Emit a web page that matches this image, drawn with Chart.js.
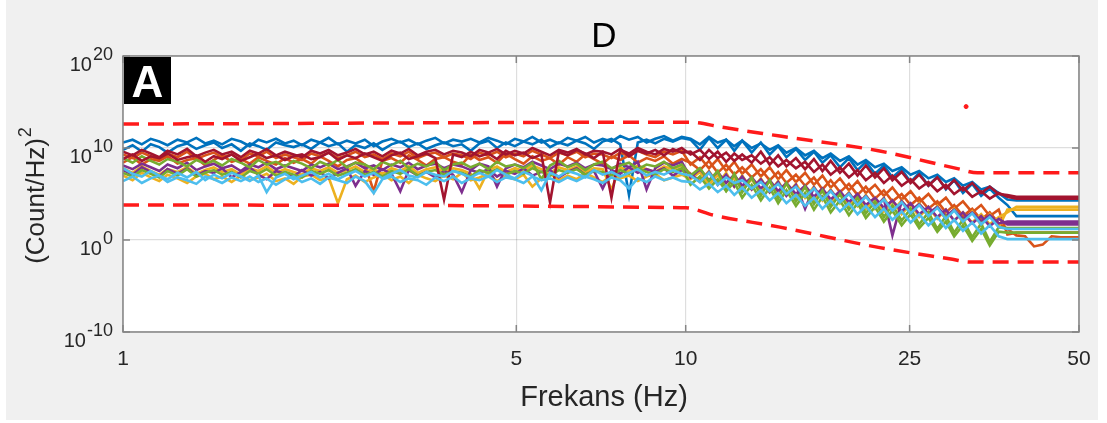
<!DOCTYPE html>
<html>
<head>
<meta charset="utf-8">
<script src="https://cdn.jsdelivr.net/npm/chart.js@4.4.1/dist/chart.umd.min.js"></script>
<style>
  html, body { margin: 0; padding: 0; background: #ffffff; }
  #wrap { width: 1107px; height: 423px; }
</style>
</head>
<body>
<div id="wrap"><canvas id="psd" width="1107" height="423"></canvas></div>
<script>
// frekans ekseni (Hz), spektrum degerleri log10 olarak saklaniyor
const freqHz = [
  1.00, 1.04, 1.08, 1.12, 1.16, 1.20, 1.25, 1.30, 1.35, 1.40,
  1.45, 1.50, 1.56, 1.62, 1.68, 1.74, 1.80, 1.87, 1.94, 2.01,
  2.08, 2.16, 2.24, 2.32, 2.41, 2.50, 2.59, 2.69, 2.79, 2.89,
  3.00, 3.11, 3.22, 3.34, 3.46, 3.59, 3.72, 3.86, 4.00, 4.15,
  4.30, 4.46, 4.62, 4.79, 4.97, 5.15, 5.34, 5.54, 5.74, 5.95,
  6.17, 6.40, 6.63, 6.87, 7.12, 7.38, 7.65, 7.93, 8.22, 8.52,
  8.83, 9.15, 9.49, 9.84,
  10.2, 10.6, 11.0, 11.4, 11.8, 12.2,
  12.6, 13.1, 13.6, 14.1, 14.6, 15.1, 15.7, 16.3, 16.9, 17.5,
  18.1, 18.8, 19.5, 20.2, 20.9, 21.7, 22.5, 23.3, 24.2, 25.1,
  26.0, 27.0, 28.0, 29.0, 30.0, 31.1, 32.3, 33.5, 34.7, 36.0,
  37.3, 38.7, 40.1, 41.6, 43.1, 44.7, 46.4, 48.1, 50.0
];

const blueLog = [
  9.8, 10.3, 9.6, 10.4, 10.1, 9.5, 10.2, 10.5, 9.9, 10.3,
  10.6, 10.0, 10.4, 9.7, 10.5, 10.2, 9.8, 10.6, 10.3, 10.1,
  10.4, 9.9, 10.6, 10.2, 10.5, 9.6, 10.3, 10.0, 10.5, 9.8,
  10.4, 10.7, 10.1, 10.5, 9.9, 10.3, 10.6, 10.2, 10.4, 9.7,
  10.5, 10.8, 10.0, 10.6, 10.2, 10.7, 10.4, 10.9, 10.1, 10.6,
  10.3, 10.8, 10.5, 9.9, 10.7, 11.0, 10.4, 4.9, 10.6, 10.9,
  10.5, 11.0, 10.7, 11.1,
  10.9, 9.8, 11.1, 10.0, 10.9, 9.7,
  10.8, 9.5, 10.6, 9.3, 10.2, 9.0, 9.9, 8.7, 9.6, 8.4,
  9.2, 7.9, 8.9, 7.6, 8.5, 7.2, 8.1, 6.8, 7.7, 6.3,
  7.3, 5.9, 6.9, 5.5, 6.5, 5.1, 6.1, 4.8, 5.6, 4.6,
  3.8, 2.6, 2.6, 2.6, 2.6, 2.6, 2.6, 2.6, 2.6
];
const blue2Log = [
  10.6, 10.9, 10.4, 11.0, 10.7, 10.3, 10.9, 10.6, 11.1, 10.5,
  10.8, 10.4, 11.0, 10.7, 10.2, 10.9, 10.6, 11.0, 10.5, 10.8,
  10.3, 10.9, 10.6, 11.1, 10.4, 10.8, 10.5, 10.9, 10.2, 10.7,
  11.0, 10.6, 10.9, 10.4, 10.8, 11.1, 10.5, 10.9, 10.7, 11.0,
  10.6, 11.1, 10.8, 10.4, 11.0, 10.7, 11.2, 10.6, 10.9, 10.5,
  11.1, 10.8, 11.2, 10.6, 11.0, 10.7, 11.3, 10.9, 11.2, 10.6,
  11.0, 11.3, 10.8, 11.2,
  11.0, 10.4, 11.2, 10.6, 10.9, 10.2,
  10.8, 10.0, 10.5, 9.8, 10.3, 9.5, 10.0, 9.2, 9.7, 8.9,
  9.4, 8.6, 9.1, 8.2, 8.7, 7.9, 8.3, 7.5, 7.9, 7.1,
  7.5, 6.7, 7.1, 6.3, 6.7, 5.9, 6.3, 5.5, 5.8, 5.1,
  4.4, 4.3, 4.3, 4.3, 4.3, 4.3, 4.3, 4.3, 4.3
];

const orangeLog = [
  8.4, 9.0, 8.2, 8.8, 8.6, 9.1, 8.3, 8.7, 8.9, 8.1,
  8.7, 9.2, 8.5, 8.8, 8.3, 9.0, 8.6, 8.2, 8.9, 8.4,
  8.8, 8.3, 9.1, 8.6, 8.0, 8.7, 8.9, 8.2, 5.3, 8.6,
  8.9, 8.4, 9.2, 8.7, 8.1, 8.8, 9.0, 8.5, 8.2, 9.3,
  8.7, 9.0, 8.4, 9.4, 8.8, 8.3, 9.1, 8.6, 8.9, 8.2,
  9.0, 8.5, 9.3, 8.8, 8.3, 9.1, 8.7, 9.2, 8.4, 8.9,
  8.6, 9.1, 8.3, 8.8,
  8.4, 7.6, 8.6, 7.3, 8.2, 7.1,
  7.9, 6.8, 7.7, 6.5, 7.4, 6.2, 7.1, 5.9, 6.8, 5.5,
  6.5, 5.2, 6.1, 4.9, 5.8, 4.5, 5.4, 4.2, 5.0, 3.8,
  4.6, 3.4, 4.2, 3.0, 3.8, 2.6, 3.4, 2.2, 3.0, 1.8,
  1.2, 0.5, 0.4, -0.7, -0.5, 0.4, 0.3, 0.3, 0.3
];
const orange2Log = [
  9.3, 8.9, 9.5, 9.1, 8.7, 9.4, 9.0, 9.6, 8.8, 9.2,
  9.5, 9.0, 9.3, 8.7, 9.4, 9.1, 9.6, 8.9, 9.3, 9.0,
  8.7, 9.4, 9.1, 9.5, 8.9, 9.2, 9.6, 9.0, 9.3, 8.8,
  9.4, 9.1, 9.6, 8.9, 9.3, 9.5, 9.0, 9.4, 9.2, 8.8,
  9.5, 9.2, 9.6, 9.0, 9.4, 9.1, 9.7, 9.3, 8.9, 9.5,
  9.2, 9.6, 9.0, 9.4, 9.3, 8.9, 9.5, 9.1, 9.7, 9.3,
  9.0, 9.6, 9.3, 9.7,
  8.2, 9.0, 7.8, 8.8, 7.5, 8.5,
  7.2, 8.2, 6.9, 7.9, 6.6, 7.6, 6.3, 7.3, 6.0, 7.0,
  5.7, 6.7, 5.4, 6.4, 5.1, 6.0, 4.8, 5.7, 4.4, 5.3,
  4.1, 5.0, 3.8, 4.6, 3.4, 4.2, 3.0, 3.8, 2.6, 3.3,
  0.6, 0.8, 0.8, 0.8, 0.8, 0.8, 0.8, 0.8, 0.8
];

const yellowLog = [
  7.0, 6.5, 7.3, 6.8, 6.4, 7.1, 6.7, 6.2, 6.9, 7.2,
  6.6, 6.9, 6.3, 7.0, 6.5, 6.8, 7.2, 6.4, 6.7, 6.1,
  6.9, 7.1, 6.5, 6.8, 4.0, 6.6, 7.0, 6.3, 6.8, 7.2,
  6.5, 6.9, 6.2, 7.1, 6.7, 6.4, 7.0, 6.6, 7.3, 6.5,
  6.8, 7.2, 6.4, 6.9, 6.6, 7.1, 5.8, 6.7, 7.2, 6.5,
  7.0, 6.6, 7.3, 6.8, 6.3, 7.1, 6.7, 7.0, 6.4, 6.9,
  7.2, 6.5, 6.8, 7.1,
  6.6, 7.4, 6.0, 7.1, 5.7, 6.8,
  5.5, 6.6, 5.2, 6.4, 4.9, 6.1, 4.6, 5.8, 4.3, 5.5,
  4.0, 5.2, 3.7, 4.9, 3.4, 4.6, 3.1, 4.3, 2.8, 3.9,
  2.5, 3.6, 2.3, 3.3, 2.1, 3.0, 1.9, 2.8, 1.7, 2.5,
  3.0, 3.6, 3.6, 3.6, 3.6, 3.6, 3.6, 3.6, 3.6
];
const yellow2Log = [
  7.8, 7.3, 8.0, 7.5, 7.1, 7.7, 7.4, 7.9, 7.2, 7.6,
  7.9, 7.4, 7.7, 7.1, 7.8, 7.5, 8.0, 7.3, 7.7, 7.4,
  7.1, 7.8, 7.5, 7.9, 7.3, 7.6, 8.0, 7.4, 7.7, 7.2,
  7.8, 7.5, 8.0, 7.3, 7.7, 7.9, 7.4, 7.8, 7.6, 7.2,
  5.6, 7.6, 8.0, 7.4, 7.8, 7.5, 8.1, 7.7, 7.3, 7.9,
  7.6, 8.0, 7.4, 7.8, 7.7, 5.5, 7.9, 7.5, 8.1, 7.7,
  7.4, 8.0, 7.7, 8.1,
  7.2, 6.4, 7.5, 6.1, 7.3, 5.8,
  7.0, 5.5, 6.7, 5.2, 6.4, 4.9, 6.1, 4.6, 5.8, 4.3,
  5.5, 4.0, 5.2, 3.7, 4.9, 3.4, 4.6, 3.1, 4.3, 2.8,
  4.0, 2.5, 3.7, 2.2, 3.4, 1.9, 3.1, 1.6, 2.8, 1.4,
  3.3, 3.3, 3.3, 3.3, 3.3, 3.3, 3.3, 3.3, 3.3
];

const purpleLog = [
  7.6, 7.1, 7.9, 7.4, 6.9, 7.7, 7.2, 7.8, 7.0, 7.5,
  7.3, 7.8, 6.8, 7.4, 7.9, 7.1, 6.6, 7.5, 7.2, 6.9,
  7.6, 7.0, 7.4, 6.7, 7.3, 7.8, 5.9, 7.5, 7.1, 7.7,
  7.2, 5.3, 7.6, 7.0, 7.4, 6.8, 7.5, 7.1, 5.2, 7.6,
  7.3, 7.7, 6.9, 7.5, 7.2, 7.8, 7.0, 7.4, 7.6, 6.8,
  7.4, 7.8, 7.1, 7.5, 5.6, 7.6, 7.2, 7.9, 7.3, 7.7,
  7.4, 7.8, 7.0, 7.6,
  7.2, 6.3, 7.4, 6.0, 7.1, 5.8,
  6.9, 5.5, 6.6, 5.2, 6.3, 4.8, 6.0, 3.4, 5.7, 4.5,
  5.4, 4.2, 5.1, 3.9, 4.8, 3.6, 4.5, 0.5, 4.2, 3.2,
  3.9, 2.9, 3.6, 2.6, 3.3, 2.3, 3.0, 2.0, 2.7, 1.8,
  2.0, 2.0, 2.0, 2.0, 2.0, 2.0, 2.0, 2.0, 2.0
];
const purple2Log = [
  8.1, 7.7, 8.3, 7.9, 7.5, 8.2, 7.8, 8.4, 7.6, 8.0,
  8.3, 7.8, 8.1, 7.5, 8.2, 7.9, 8.4, 7.7, 8.1, 7.8,
  7.5, 8.2, 7.9, 8.3, 7.7, 8.0, 8.4, 7.8, 8.1, 7.6,
  8.2, 7.9, 8.4, 7.7, 8.1, 8.3, 7.8, 8.2, 8.0, 7.6,
  8.3, 8.0, 5.8, 7.8, 8.2, 7.9, 8.5, 8.1, 7.7, 8.3,
  8.0, 8.4, 7.8, 8.2, 8.1, 7.7, 8.3, 7.9, 8.5, 5.5,
  7.8, 8.4, 8.1, 8.5,
  6.8, 7.7, 6.5, 7.4, 6.2, 7.1,
  5.9, 6.8, 5.6, 6.5, 5.3, 6.2, 5.0, 5.9, 4.7, 5.6,
  4.4, 5.3, 4.1, 5.0, 3.8, 4.6, 3.5, 4.3, 3.1, 4.0,
  2.8, 3.6, 2.5, 3.3, 2.1, 3.0, 1.8, 2.6, 1.5, 2.3,
  1.7, 1.7, 1.7, 1.7, 1.7, 1.7, 1.7, 1.7, 1.7
];

const greenLog = [
  8.9, 8.4, 9.1, 8.6, 8.2, 8.8, 8.5, 8.0, 8.7, 8.3,
  8.6, 8.1, 8.8, 8.4, 7.9, 8.7, 8.2, 8.5, 8.0, 8.6,
  8.3, 7.8, 8.5, 8.1, 8.7, 7.9, 8.4, 8.2, 7.7, 8.5,
  8.1, 8.6, 7.8, 8.3, 8.0, 8.5, 7.6, 8.2, 8.4, 7.9,
  8.3, 7.7, 8.5, 8.0, 8.2, 7.8, 8.4, 6.6, 8.1, 8.6,
  7.9, 8.3, 7.6, 8.2, 8.5, 7.8, 8.1, 8.4, 7.7, 8.2,
  8.0, 8.5, 7.8, 8.2,
  7.0, 7.8, 6.4, 7.5, 5.4, 7.2,
  5.2, 6.8, 4.8, 6.5, 4.5, 6.2, 4.2, 5.8, 3.9, 5.4,
  3.6, 5.0, 3.3, 4.6, 2.9, 4.2, 2.5, 3.8, 2.1, 3.4,
  1.7, 3.0, 1.2, 2.6, 0.8, 2.2, 0.3, 1.8, -0.2, 1.4,
  1.3, 1.3, 1.3, 1.3, 1.3, 1.3, 1.3, 1.3, 1.3
];
const green2Log = [
  7.3, 6.9, 7.6, 7.2, 6.8, 7.5, 7.0, 7.7, 6.9, 7.3,
  7.6, 7.1, 7.4, 6.8, 7.5, 7.2, 7.7, 7.0, 7.4, 7.1,
  6.8, 7.5, 7.2, 7.6, 7.0, 7.3, 7.7, 7.1, 7.4, 6.9,
  7.5, 7.2, 7.7, 7.0, 7.4, 7.6, 7.1, 7.5, 7.3, 6.9,
  7.6, 7.3, 7.7, 7.1, 7.5, 7.2, 7.8, 7.4, 7.0, 7.6,
  7.3, 7.7, 7.1, 7.5, 7.4, 7.0, 7.6, 7.2, 7.8, 7.4,
  7.1, 7.7, 7.4, 7.8,
  6.0, 6.9, 5.6, 6.6, 5.3, 6.3,
  4.6, 6.0, 4.3, 5.7, 4.0, 5.4, 3.7, 5.1, 3.3, 4.7,
  3.0, 4.3, 2.7, 4.0, 2.4, 3.6, 2.0, 3.2, 1.6, 2.8,
  1.3, 2.4, 0.9, 2.0, 0.4, 1.6, -0.1, 1.2, -0.6, 0.9,
  0.8, 0.8, 0.8, 0.8, 0.8, 0.8, 0.8, 0.8, 0.8
];

const lightBlueLog = [
  7.8, 7.2, 6.9, 7.5, 7.0, 6.6, 7.3, 6.8, 7.4, 6.5,
  7.1, 6.7, 7.3, 6.9, 6.4, 7.0, 5.2, 6.8, 7.2, 6.6,
  7.0, 7.4, 6.8, 7.2, 6.6, 7.1, 7.5, 6.9, 7.3, 6.7,
  7.2, 7.6, 7.0, 6.8, 7.4, 7.1, 6.9, 7.5, 7.2, 6.8,
  7.3, 6.9, 7.6, 7.1, 6.7, 7.4, 7.0, 5.4, 7.3, 6.9,
  7.5, 7.2, 6.8, 7.6, 7.1, 7.4, 6.9, 7.3, 7.7, 7.0,
  7.4, 7.1, 7.6, 7.2,
  7.0, 6.3, 7.3, 6.0, 6.8, 6.2,
  6.5, 5.6, 6.3, 5.3, 6.1, 5.0, 5.8, 4.7, 5.6, 4.4,
  5.3, 4.1, 5.0, 3.8, 4.7, 3.5, 4.4, 3.2, 4.1, 2.9,
  3.8, 2.6, 3.5, 2.3, 3.2, 2.0, 2.9, 1.7, 2.5, 1.4,
  1.2, 1.2, 1.2, 1.2, 1.2, 1.2, 1.2, 1.2, 1.2
];
const lightBlue2Log = [
  6.4, 6.9, 6.2, 6.7, 7.0, 6.3, 6.8, 6.5, 6.1, 6.9,
  6.6, 6.2, 6.8, 6.4, 6.9, 6.3, 6.7, 6.0, 6.6, 6.9,
  6.3, 6.7, 6.1, 6.8, 6.5, 6.2, 6.9, 6.4, 5.1, 6.6,
  6.9, 6.3, 6.7, 6.5, 6.0, 6.8, 6.4, 6.9, 6.2, 6.7,
  6.5, 6.9, 6.3, 6.8, 6.6, 6.2, 6.9, 6.5, 6.7, 6.3,
  6.8, 6.4, 6.9, 6.6, 6.2, 6.8, 6.5, 5.6, 6.7, 6.3,
  6.9, 6.5, 6.8, 6.4,
  6.3, 5.5, 6.1, 5.2, 5.9, 4.9,
  5.7, 4.6, 5.4, 4.3, 5.1, 4.0, 4.9, 3.7, 4.6, 3.4,
  4.3, 3.1, 4.0, 2.8, 3.7, 2.5, 3.4, 2.2, 3.1, 1.9,
  2.8, 1.6, 2.5, 1.3, 2.2, 1.0, 1.9, 0.7, 1.6, 0.4,
  0.1, 0.1, 0.1, 0.1, 0.1, 0.1, 0.1, 0.1, 0.1
];

const darkRedLog = [
  8.8, 9.3, 8.6, 9.1, 8.9, 9.4, 8.7, 9.0, 9.2, 8.5,
  9.1, 8.8, 9.3, 8.6, 9.0, 9.4, 8.9, 9.2, 8.7, 9.1,
  9.3, 8.8, 9.0, 9.5, 8.7, 9.2, 8.9, 9.4, 9.0, 8.6,
  9.2, 9.5, 8.8, 9.1, 9.4, 8.9, 4.4, 9.3, 9.0, 9.6,
  9.1, 9.4, 8.8, 9.7, 9.2, 9.5, 8.9, 9.3, 4.1, 9.6,
  9.2, 9.8, 9.4, 8.9, 9.6, 9.3, 9.9, 9.1, 9.7, 9.4,
  9.8, 9.2, 9.9, 9.5,
  9.6, 8.7, 9.8, 8.9, 9.5, 8.6,
  9.3, 8.4, 9.6, 8.2, 9.2, 8.0, 8.9, 7.7, 8.8, 7.5,
  8.6, 7.3, 8.3, 7.0, 8.1, 6.8, 7.8, 6.5, 7.4, 6.2,
  7.1, 5.9, 6.8, 5.6, 6.5, 5.4, 6.2, 5.1, 5.8, 5.0,
  4.9, 4.7, 4.7, 4.7, 4.7, 4.7, 4.7, 4.7, 4.7
];
const darkRed2Log = [
  9.6, 9.2, 9.8, 9.4, 9.0, 9.7, 9.3, 9.9, 9.1, 9.5,
  9.8, 9.3, 9.6, 9.0, 9.7, 9.4, 9.9, 9.2, 9.6, 9.3,
  9.0, 9.7, 9.4, 9.8, 9.2, 9.5, 9.9, 9.3, 9.6, 9.1,
  9.7, 9.4, 9.9, 9.2, 9.6, 9.8, 9.3, 9.7, 9.5, 9.1,
  9.8, 9.5, 9.9, 9.3, 9.7, 9.4, 10.0, 9.6, 9.2, 9.8,
  9.5, 9.9, 9.3, 9.7, 9.6, 4.6, 9.8, 9.4, 10.0, 9.6,
  9.3, 9.9, 9.6, 10.0,
  9.3, 9.8, 8.8, 9.6, 8.5, 9.4,
  8.7, 9.2, 8.3, 9.0, 8.0, 8.7, 7.8, 8.5, 7.4, 8.2,
  7.1, 7.9, 6.8, 7.6, 6.5, 7.3, 6.2, 7.0, 5.9, 6.6,
  5.6, 6.3, 5.3, 6.0, 5.0, 5.7, 4.7, 5.3, 4.5, 5.1,
  4.7, 4.5, 4.5, 4.5, 4.5, 4.5, 4.5, 4.5, 4.5
];

// esik cizgileri (kirmizi kesikli)
const upperFreq = [1, 10, 10.5, 11.5, 14.7, 22, 30.7, 33, 50];
const upperLog = [12.6, 12.8, 12.75, 12.3, 11.3, 9.7, 7.7, 7.3, 7.3];
const lowerFreq = [1, 10, 11.2, 14.7, 22, 29.8, 32, 50];
const lowerLog = [3.8, 3.5, 2.7, 1.4, -0.8, -2.1, -2.4, -2.4];
const outlierFreq = [31.5];
const outlierLog = [14.5];

const xTickVals = [1, 5, 10, 25, 50];
const yTickExp = [-10, 0, 10, 20];

const FONT = '"Liberation Sans", Arial, Helvetica, sans-serif';
const TEXT = '#262626';

function pts(xs, logs) {
  return logs.map((e, i) => ({ x: xs[i], y: Math.pow(10, e) }));
}

function spec(label, logs, color) {
  return {
    label,
    data: pts(freqHz, logs),
    borderColor: color,
    borderWidth: 2.6,
    pointRadius: 0,
    showLine: true,
    tension: 0,
  };
}

function bound(label, xs, logs) {
  return {
    label,
    data: pts(xs, logs),
    borderColor: '#ff1a1a',
    borderWidth: 3.5,
    borderDash: [16, 9],
    pointRadius: 0,
    showLine: true,
    cubicInterpolationMode: 'monotone',
  };
}

// figure arka plani + kutu, etiketler
const matlabLook = {
  id: 'matlabLook',
  beforeDraw(chart) {
    const { ctx, chartArea: a } = chart;
    ctx.save();
    ctx.fillStyle = '#ffffff';
    ctx.fillRect(0, 0, chart.width, chart.height);
    ctx.fillStyle = '#f0f0f0';
    ctx.fillRect(6, 0, 1092, 420);
    ctx.fillStyle = '#ffffff';
    ctx.fillRect(a.left, a.top, a.right - a.left, a.bottom - a.top);
    ctx.restore();
  },
  afterDraw(chart) {
    const { ctx, chartArea: a } = chart;
    const xs = chart.scales.x, ys = chart.scales.y;
    ctx.save();

    // kutu ve tick isaretleri
    ctx.strokeStyle = '#858585';
    ctx.lineWidth = 1.5;
    ctx.strokeRect(a.left, a.top, a.right - a.left, a.bottom - a.top);
    ctx.beginPath();
    xTickVals.forEach(v => {
      const px = xs.getPixelForValue(v);
      ctx.moveTo(px, a.bottom); ctx.lineTo(px, a.bottom - 7);
      ctx.moveTo(px, a.top); ctx.lineTo(px, a.top + 7);
    });
    yTickExp.forEach(e => {
      const py = ys.getPixelForValue(Math.pow(10, e));
      ctx.moveTo(a.left, py); ctx.lineTo(a.left + 7, py);
      ctx.moveTo(a.right, py); ctx.lineTo(a.right - 7, py);
    });
    ctx.stroke();

    // x tick yazilari
    ctx.fillStyle = TEXT;
    ctx.font = '21px ' + FONT;
    ctx.textAlign = 'center';
    ctx.textBaseline = 'middle';
    xTickVals.forEach(v => {
      ctx.fillText(String(v), xs.getPixelForValue(v), 359);
    });

    // y tick yazilari (10^n)
    ctx.textBaseline = 'alphabetic';
    ctx.textAlign = 'left';
    yTickExp.forEach(e => {
      const py = ys.getPixelForValue(Math.pow(10, e));
      const sup = String(e);
      ctx.font = '18px ' + FONT;
      const sw = ctx.measureText(sup).width;
      ctx.font = '20px ' + FONT;
      const bw = ctx.measureText('10').width;
      const right = 113;
      ctx.fillText('10', right - sw - bw - 1, py + 14.5);
      ctx.font = '18px ' + FONT;
      ctx.fillText(sup, right - sw, py + 4);
    });

    // eksen basliklari
    ctx.font = '29px ' + FONT;
    ctx.textAlign = 'center';
    ctx.fillText('Frekans (Hz)', 604, 406);

    ctx.translate(44, 196);
    ctx.rotate(-Math.PI / 2);
    ctx.font = '26px ' + FONT;
    const main = '(Count/Hz)';
    const mw = ctx.measureText(main).width;
    ctx.font = '18px ' + FONT;
    const s2w = ctx.measureText('2').width;
    const start = -(mw + s2w) / 2;
    ctx.textAlign = 'left';
    ctx.font = '26px ' + FONT;
    ctx.fillText(main, start, 0);
    ctx.font = '18px ' + FONT;
    ctx.fillText('2', start + mw + 1, -13);
    ctx.setTransform(1, 0, 0, 1, 0, 0);

    // baslik
    ctx.font = '35px ' + FONT;
    ctx.textAlign = 'center';
    ctx.fillStyle = '#000000';
    ctx.fillText('D', 604, 47);

    // panel etiketi
    ctx.fillStyle = '#000000';
    ctx.fillRect(a.left + 1, a.top + 1, 47, 47);
    ctx.fillStyle = '#ffffff';
    ctx.font = 'bold 44px ' + FONT;
    ctx.fillText('A', a.left + 24.5, a.top + 41);

    ctx.restore();
  },
};

new Chart(document.getElementById('psd'), {
  type: 'scatter',
  data: {
    datasets: [
      bound('upper', upperFreq, upperLog),
      bound('lower', lowerFreq, lowerLog),
      {
        label: 'outlier',
        data: pts(outlierFreq, outlierLog),
        backgroundColor: '#ff1a1a',
        borderColor: '#ff1a1a',
        pointRadius: 2,
        showLine: false,
      },
      spec('s7', lightBlueLog, '#4DBEEE'),
      spec('s14', lightBlue2Log, '#4DBEEE'),
      spec('s6', darkRedLog, '#A2142F'),
      spec('s13', darkRed2Log, '#A2142F'),
      spec('s5', greenLog, '#77AC30'),
      spec('s12', green2Log, '#77AC30'),
      spec('s4', purpleLog, '#7E2F8E'),
      spec('s11', purple2Log, '#7E2F8E'),
      spec('s3', yellowLog, '#EDB120'),
      spec('s10', yellow2Log, '#EDB120'),
      spec('s2', orangeLog, '#D95319'),
      spec('s9', orange2Log, '#D95319'),
      spec('s1', blueLog, '#0072BD'),
      spec('s8', blue2Log, '#0072BD'),
    ],
  },
  options: {
    responsive: false,
    animation: false,
    layout: { padding: { left: 123, top: 56, right: 28, bottom: 91 } },
    plugins: { legend: { display: false }, tooltip: { enabled: false } },
    scales: {
      x: {
        type: 'logarithmic',
        min: 1,
        max: 50,
        afterBuildTicks(s) { s.ticks = xTickVals.map(v => ({ value: v })); },
        afterFit(s) { s.height = 0; },
        ticks: { display: false },
        grid: { color: 'rgba(0,0,0,0.13)', lineWidth: 1.2, drawTicks: false },
        border: { display: false },
      },
      y: {
        type: 'logarithmic',
        min: 1e-10,
        max: 1e20,
        afterBuildTicks(s) { s.ticks = yTickExp.map(e => ({ value: Math.pow(10, e) })); },
        afterFit(s) { s.width = 0; },
        ticks: { display: false },
        grid: { color: 'rgba(0,0,0,0.13)', lineWidth: 1.2, drawTicks: false },
        border: { display: false },
      },
    },
  },
  plugins: [matlabLook],
});
</script>
</body>
</html>
